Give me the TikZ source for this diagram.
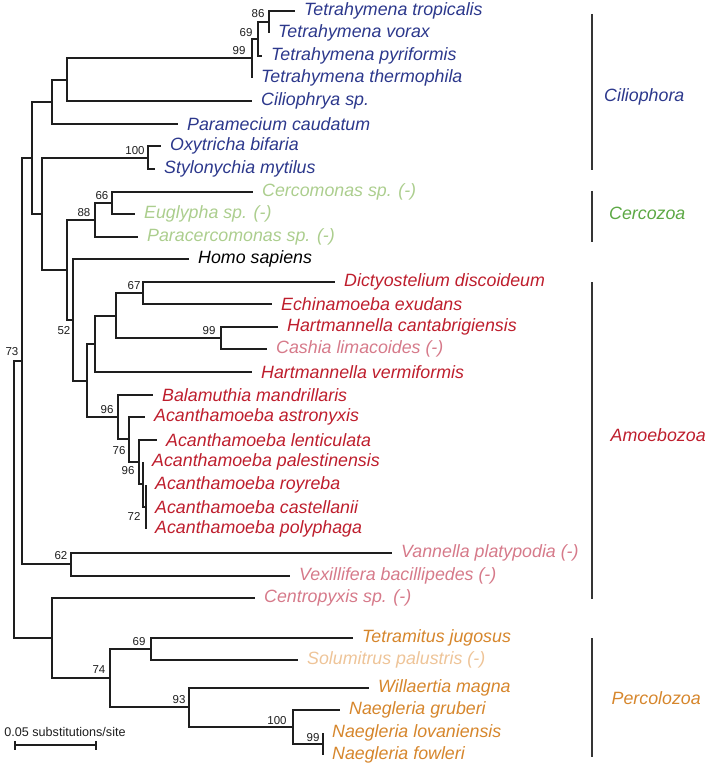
\documentclass[tikz,border=0pt]{standalone}
\usepackage{fontspec}
\setmainfont{Liberation Sans}
\definecolor{cil}{RGB}{44,56,140}
\definecolor{cerL}{RGB}{172,206,142}
\definecolor{cerD}{RGB}{92,168,68}
\definecolor{amo}{RGB}{190,30,45}
\definecolor{amoL}{RGB}{214,122,138}
\definecolor{per}{RGB}{214,134,44}
\definecolor{perL}{RGB}{238,196,152}
\definecolor{ln}{RGB}{30,30,30}
\begin{document}
\begin{tikzpicture}[x=1pt,y=-1pt,
  br/.style={draw=ln,line width=2pt},
  leaf/.style={anchor=west,inner xsep=9pt,inner ysep=0pt,font=\fontsize{17.8}{20}\selectfont\itshape},
  boot/.style={inner sep=0pt,font=\fontsize{11.5}{13}\selectfont,text=ln},
  cladebar/.style={draw=ln!90,line width=2pt},
  cladelab/.style={anchor=west,inner sep=0pt,font=\fontsize{17.8}{20}\selectfont\itshape}]
\useasboundingbox (0,0) rectangle (708,767);
% internal nodes
\coordinate (n86) at (269,22);
\coordinate (n69a) at (258,39);
\coordinate (n99a) at (252,58);
\coordinate (nA) at (67,80);
\coordinate (nB) at (52,102);
\coordinate (n100a) at (148,158);
\coordinate (n66) at (112,203);
\coordinate (n88) at (95,220);
\coordinate (n67) at (143,293);
\coordinate (n99b) at (221,338);
\coordinate (nC) at (116,316);
\coordinate (nD) at (95,344);
\coordinate (n72) at (146,507);
\coordinate (n96b) at (143,484);
\coordinate (nE) at (139,462);
\coordinate (n76) at (129,439);
\coordinate (n96a) at (118,417);
\coordinate (nF) at (87,381);
\coordinate (n52) at (73,320);
\coordinate (nG) at (67,270);
\coordinate (nH) at (42,214);
\coordinate (nI) at (32,158);
\coordinate (n62) at (71,564);
\coordinate (nJ) at (22,361);
\coordinate (n99c) at (323,744);
\coordinate (n100b) at (293,727);
\coordinate (n93) at (189,707);
\coordinate (n69b) at (151,649);
\coordinate (n74) at (110,678);
\coordinate (nK) at (52,638);
\coordinate (root) at (14,500);
% leaves
\node[leaf,text=cil] (l1) at (295,11) {Tetrahymena tropicalis};
\node[leaf,text=cil] (l2) at (269,33) {Tetrahymena vorax};
\node[leaf,text=cil] (l3) at (262,56) {Tetrahymena pyriformis};
\node[leaf,text=cil] (l4) at (252,78) {Tetrahymena thermophila};
\node[leaf,text=cil] (l5) at (252,101) {Ciliophrya sp.};
\node[leaf,text=cil] (l6) at (178,124) {Paramecium caudatum};
\node[leaf,text=cil] (l7) at (161,146) {Oxytricha bifaria};
\node[leaf,text=cil] (l8) at (155,169) {Stylonychia mytilus};
\node[leaf,text=cerL] (l9) at (253,192) {Cercomonas sp. (-)};
\node[leaf,text=cerL] (l10) at (135,214) {Euglypha sp. (-)};
\node[leaf,text=cerL] (l11) at (138,237) {Paracercomonas sp. (-)};
\node[leaf,text=black] (l12) at (189,259) {Homo sapiens};
\node[leaf,text=amo] (l13) at (335,282) {Dictyostelium discoideum};
\node[leaf,text=amo] (l14) at (272,304) {Echinamoeba exudans};
\node[leaf,text=amo] (l15) at (278,327) {Hartmannella cantabrigiensis};
\node[leaf,text=amoL] (l16) at (267,349) {Cashia limacoides (-)};
\node[leaf,text=amo] (l17) at (252,372) {Hartmannella vermiformis};
\node[leaf,text=amo] (l18) at (153,395) {Balamuthia mandrillaris};
\node[leaf,text=amo] (l19) at (145,417) {Acanthamoeba astronyxis};
\node[leaf,text=amo] (l20) at (157,440) {Acanthamoeba lenticulata};
\node[leaf,text=amo] (l21) at (143,462) {Acanthamoeba palestinensis};
\node[leaf,text=amo] (l22) at (146,485) {Acanthamoeba royreba};
\node[leaf,text=amo] (l23) at (146,507) {Acanthamoeba castellanii};
\node[leaf,text=amo] (l24) at (146,529) {Acanthamoeba polyphaga};
\node[leaf,text=amoL] (l25) at (392,553) {Vannella platypodia (-)};
\node[leaf,text=amoL] (l26) at (290,576) {Vexillifera bacillipedes (-)};
\node[leaf,text=amoL] (l27) at (255,598) {Centropyxis sp. (-)};
\node[leaf,text=per] (l28) at (353,638) {Tetramitus jugosus};
\node[leaf,text=perL] (l29) at (298,660) {Solumitrus palustris (-)};
\node[leaf,text=per] (l30) at (369,688) {Willaertia magna};
\node[leaf,text=per] (l31) at (340,710) {Naegleria gruberi};
\node[leaf,text=per] (l32) at (323,733) {Naegleria lovaniensis};
\node[leaf,text=per] (l33) at (323,755) {Naegleria fowleri};
% branches
\draw[br] (n86) |- (l1.west);
\draw[br] (n86) |- (l2.west);
\draw[br] (n69a) |- (n86);
\draw[br] (n69a) |- (l3.west);
\draw[br] (n99a) |- (n69a);
\draw[br] (n99a) |- (l4.west);
\draw[br] (nA) |- (n99a);
\draw[br] (nA) |- (l5.west);
\draw[br] (nB) |- (nA);
\draw[br] (nB) |- (l6.west);
\draw[br] (n100a) |- (l7.west);
\draw[br] (n100a) |- (l8.west);
\draw[br] (n66) |- (l9.west);
\draw[br] (n66) |- (l10.west);
\draw[br] (n88) |- (n66);
\draw[br] (n88) |- (l11.west);
\draw[br] (n67) |- (l13.west);
\draw[br] (n67) |- (l14.west);
\draw[br] (n99b) |- (l15.west);
\draw[br] (n99b) |- (l16.west);
\draw[br] (nC) |- (n67);
\draw[br] (nC) |- (n99b);
\draw[br] (nD) |- (nC);
\draw[br] (nD) |- (l17.west);
\draw[br] (n72) |- (l22.west);
\draw[br] (n72) |- (l23.west);
\draw[br] (n72) |- (l24.west);
\draw[br] (n96b) |- (l21.west);
\draw[br] (n96b) |- (n72);
\draw[br] (nE) |- (l20.west);
\draw[br] (nE) |- (n96b);
\draw[br] (n76) |- (l19.west);
\draw[br] (n76) |- (nE);
\draw[br] (n96a) |- (l18.west);
\draw[br] (n96a) |- (n76);
\draw[br] (nF) |- (nD);
\draw[br] (nF) |- (n96a);
\draw[br] (n52) |- (l12.west);
\draw[br] (n52) |- (nF);
\draw[br] (nG) |- (n88);
\draw[br] (nG) |- (n52);
\draw[br] (nH) |- (n100a);
\draw[br] (nH) |- (nG);
\draw[br] (nI) |- (nB);
\draw[br] (nI) |- (nH);
\draw[br] (n62) |- (l25.west);
\draw[br] (n62) |- (l26.west);
\draw[br] (nJ) |- (nI);
\draw[br] (nJ) |- (n62);
\draw[br] (n99c) |- (l32.west);
\draw[br] (n99c) |- (l33.west);
\draw[br] (n100b) |- (l31.west);
\draw[br] (n100b) |- (n99c);
\draw[br] (n93) |- (l30.west);
\draw[br] (n93) |- (n100b);
\draw[br] (n69b) |- (l28.west);
\draw[br] (n69b) |- (l29.west);
\draw[br] (n74) |- (n69b);
\draw[br] (n74) |- (n93);
\draw[br] (nK) |- (l27.west);
\draw[br] (nK) |- (n74);
\draw[br] (root) |- (nJ);
\draw[br] (root) |- (nK);
% bootstrap values
\node[boot] (b1) at (258,14) {86};
\node[boot] (b2) at (246,33) {69};
\node[boot] (b3) at (239,51) {99};
\node[boot] (b4) at (135,151) {100};
\node[boot] (b5) at (102,196) {66};
\node[boot] (b6) at (84,213) {88};
\node[boot] (b7) at (134,286) {67};
\node[boot] (b8) at (64,331) {52};
\node[boot] (b9) at (12,352) {73};
\node[boot] (b10) at (209,331) {99};
\node[boot] (b11) at (107,410) {96};
\node[boot] (b12) at (119,451) {76};
\node[boot] (b13) at (128,471) {96};
\node[boot] (b14) at (134,516) {72};
\node[boot] (b15) at (61,556) {62};
\node[boot] (b16) at (139,642) {69};
\node[boot] (b17) at (99,670) {74};
\node[boot] (b18) at (179,700) {93};
\node[boot] (b19) at (277,721) {100};
\node[boot] (b20) at (313,738) {99};
% clade bars and names
\coordinate (c1a) at (592,14); \coordinate (c1b) at (592,170);
\coordinate (c2a) at (592,191); \coordinate (c2b) at (592,242);
\coordinate (c3a) at (592,282); \coordinate (c3b) at (592,599);
\coordinate (c4a) at (592,638); \coordinate (c4b) at (592,757);
\draw[cladebar] (c1a) -- (c1b);
\draw[cladebar] (c2a) -- (c2b);
\draw[cladebar] (c3a) -- (c3b);
\draw[cladebar] (c4a) -- (c4b);
\node[cladelab,text=cil] (k1) at (604,96.5) {Ciliophora};
\node[cladelab,text=cerD] (k2) at (609,213) {Cercozoa};
\node[cladelab,text=amo] (k3) at (610.5,435) {Amoebozoa};
\node[cladelab,text=per] (k4) at (611.5,698) {Percolozoa};
% scale bar
\coordinate (s1) at (15,745); \coordinate (s2) at (96,745);
\draw[draw=ln,line width=2pt] (s1) -- (s2);
\draw[draw=ln,line width=2pt] ([yshift=-4.5pt]s1) -- ([yshift=4.5pt]s1);
\draw[draw=ln,line width=2pt] ([yshift=-4.5pt]s2) -- ([yshift=4.5pt]s2);
\node[inner sep=0pt,font=\fontsize{12.6}{14}\selectfont,text=ln] (st) at (65,732) {0.05 substitutions/site};
\end{tikzpicture}
\end{document}
